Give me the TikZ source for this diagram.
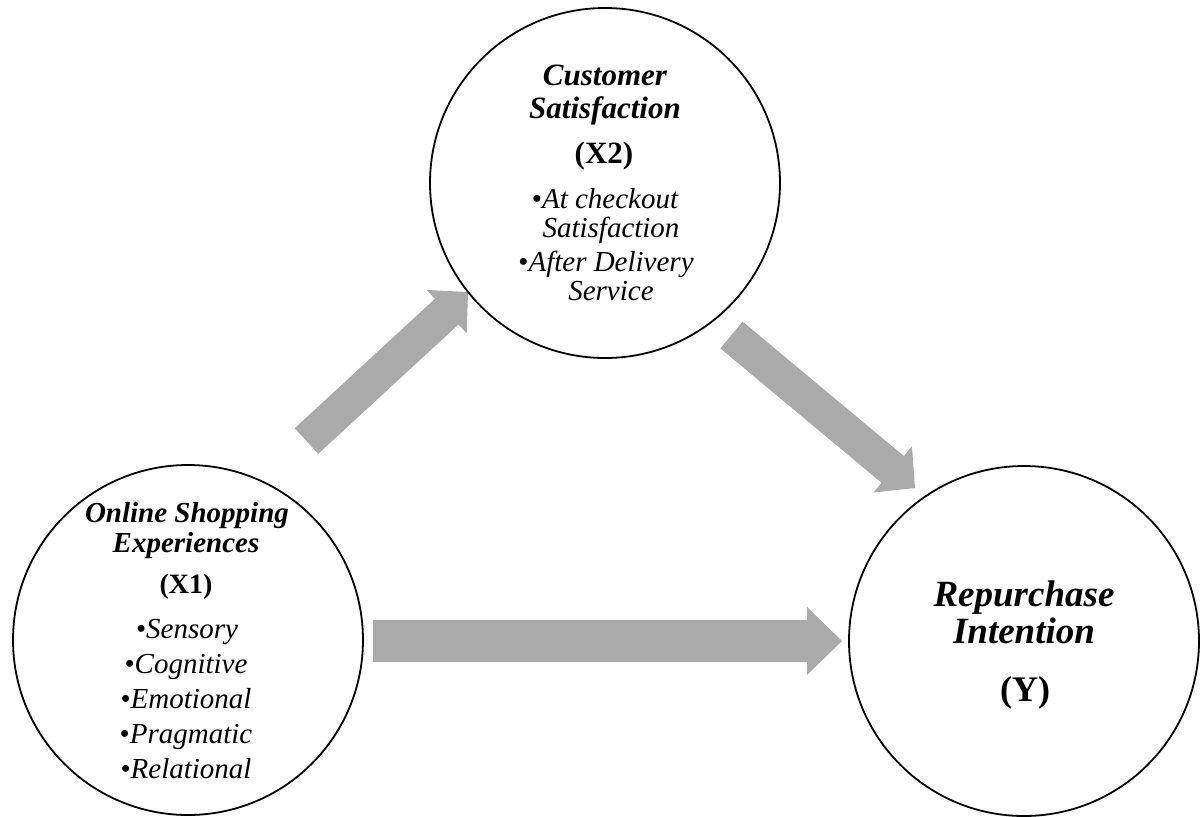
\documentclass[tikz,border=0pt]{standalone}
\usepackage{fontspec}
\setmainfont{Liberation Serif}
\usetikzlibrary{calc}
\definecolor{arrowgray}{RGB}{170,170,170}
% block arrow: #1 tail, #2 tip, #3 half shaft width, #4 half head width, #5 head length
\newcommand{\blockarr}[5]{%
  \coordinate (hb) at ($(#2)!#5!(#1)$);
  \fill[arrowgray] ($(#1)!#3!90:(#2)$) -- ($(hb)!#3!90:(#2)$) -- ($(hb)!#4!90:(#2)$)
    -- (#2) -- ($(hb)!#4!-90:(#2)$) -- ($(hb)!#3!-90:(#2)$) -- ($(#1)!#3!-90:(#2)$) -- cycle;}
\begin{document}
\begin{tikzpicture}[x=0.5pt,y=-0.5pt,
  bubble/.style={circle, draw=black, line width=0.9pt, inner sep=0pt, minimum size=175pt},
  ttl/.style={anchor=base, inner sep=0pt, font=\fontsize{#1}{#1}\selectfont\bfseries\itshape},
  var/.style={anchor=base, inner sep=0pt, font=\fontsize{#1}{#1}\selectfont\bfseries},
  itm/.style={anchor=base, inner sep=0pt, font=\fontsize{#1}{#1}\selectfont\itshape}]
\useasboundingbox (0,0) rectangle (1200,816);

% arrows
\coordinate (h1) at (373,641);   \coordinate (h2) at (842,641);
\coordinate (u1) at (306.5,441); \coordinate (u2) at (468,292);
\coordinate (d1) at (731.5,335); \coordinate (d2) at (915,488);
\blockarr{h1}{h2}{10.5pt}{17pt}{17.5pt}
\blockarr{u1}{u2}{8.7pt}{14.75pt}{14.5pt}
\blockarr{d1}{d2}{8.7pt}{15pt}{14.5pt}

% circles
\node[bubble] (x2) at (605,183) {};
\node[bubble] (x1) at (188,640) {};
\node[bubble] (y)  at (1024,641) {};

% top circle text
\node[ttl=15.5] (x2a) at (605,85)  {Customer};
\node[ttl=15.5] (x2b) at (605,118) {Satisfaction};
\node[var=15.5] (x2c) at (604,163) {(X2)};
\node[itm=14.5] (x2d) at (605,208) {{\upshape•}At checkout};
\node[itm=14.5] (x2e) at (611,237) {Satisfaction};
\node[itm=14.5] (x2f) at (606,271) {{\upshape•}After Delivery};
\node[itm=14.5] (x2g) at (611,300) {Service};

% left circle text
\node[ttl=14.5] (x1a) at (187,522) {Online Shopping};
\node[ttl=14.5] (x1b) at (186,552) {Experiences};
\node[var=14]   (x1c) at (186,593) {(X1)};
\node[itm=14.5] (x1d) at (187,638) {{\upshape•}Sensory};
\node[itm=14.5] (x1e) at (186,673) {{\upshape•}Cognitive};
\node[itm=14.5] (x1f) at (186,708) {{\upshape•}Emotional};
\node[itm=14.5] (x1g) at (186,743) {{\upshape•}Pragmatic};
\node[itm=14.5] (x1h) at (186,778) {{\upshape•}Relational};

% right circle text
\node[ttl=18.5] (ya) at (1024,606) {Repurchase};
\node[ttl=18.5] (yb) at (1024,643) {Intention};
\node[var=18]   (yc) at (1025,701) {(Y)};
\end{tikzpicture}
\end{document}
